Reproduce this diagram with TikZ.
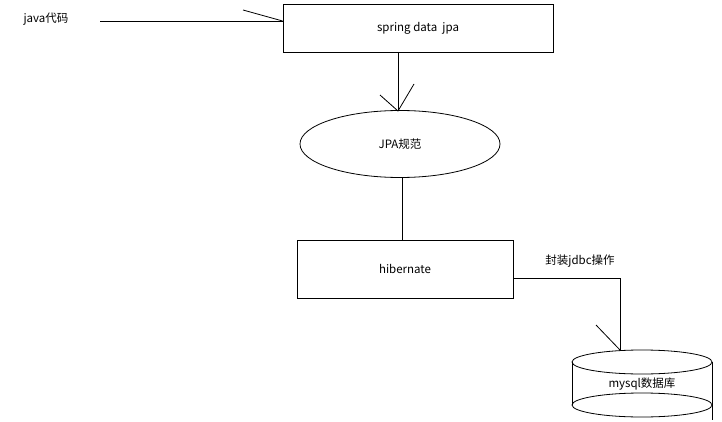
\documentclass[tikz,border=0pt]{standalone}
\usepackage{fontspec}
\setmainfont{Noto Sans CJK SC}
\usetikzlibrary{shapes.geometric}
\begin{document}
\begin{tikzpicture}[x=1pt,y=-1pt,line width=0.8pt,
  lbl/.style={font=\fontsize{11.5}{13}\selectfont,inner sep=0pt}]
\useasboundingbox[fill=white] (0,0) rectangle (722,422);
\node[lbl] (java) at (46,19) {java代码};
\node[draw,minimum width=270pt,minimum height=48pt,font=\fontsize{11.5}{13}\selectfont] (sdj) at (418,28) {spring data\ \ jpa};
\node[draw,ellipse,minimum width=200pt,minimum height=67pt,font=\fontsize{11.5}{13}\selectfont] (jpa) at (400,144) {JPA规范};
\node[draw,minimum width=216pt,minimum height=58pt,font=\fontsize{11.5}{13}\selectfont] (hib) at (405,269) {hibernate};
\node[lbl] (fz) at (580,261) {封装jdbc操作};
\node[lbl] (db) at (642,384) {mysql数据库};
\coordinate (a1) at (100,21);
\coordinate (c1) at (620,278);
\coordinate (dbtop) at (620,350);
% cylinder
\draw (642,362) ellipse (70 and 12);
\draw (642,405) ellipse (70 and 12);
\draw (572,362) -- (572,405);
\draw (712,362) -- (712,420);
% connectors
\draw (a1) -- (sdj.west |- a1);
\draw (243,10) -- (sdj.west |- a1);
\draw (398,52) -- (398,111) coordinate (t2);
\draw (380,95) -- (t2) -- (414,84);
\draw (jpa.south -| 402,0) -- (hib.north -| 402,0);
\draw (hib.east |- c1) -- (c1) -- (dbtop);
\draw (596,325) -- (dbtop);
\end{tikzpicture}
\end{document}
